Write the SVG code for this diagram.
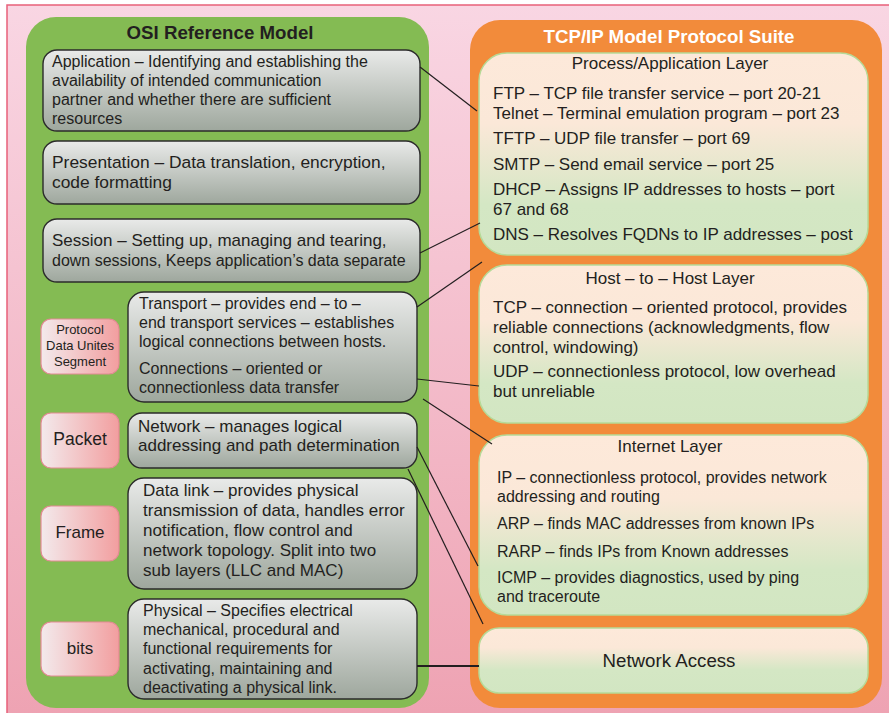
<svg xmlns="http://www.w3.org/2000/svg" width="889" height="713" viewBox="0 0 889 713">
  <defs>
    <linearGradient id="bgGrad" x1="0" y1="0" x2="0" y2="1">
      <stop offset="0" stop-color="#f9d6e3"/>
      <stop offset="1" stop-color="#eea2b2"/>
    </linearGradient>
    <linearGradient id="greyGrad" x1="0" y1="0" x2="0" y2="1">
      <stop offset="0" stop-color="#e9eae9"/>
      <stop offset="1" stop-color="#9ea79d"/>
    </linearGradient>
    <linearGradient id="pduGrad" x1="0" y1="0" x2="1" y2="0">
      <stop offset="0" stop-color="#f3eaec"/>
      <stop offset="1" stop-color="#f29e9f"/>
    </linearGradient>
    <linearGradient id="layerGrad" x1="0" y1="0" x2="0" y2="1">
      <stop offset="0" stop-color="#fde9da"/>
      <stop offset="0.35" stop-color="#fbe8d8"/>
      <stop offset="0.75" stop-color="#d4e7c4"/>
      <stop offset="1" stop-color="#d2e6c2"/>
    </linearGradient>
    <linearGradient id="accessGrad" x1="0" y1="0" x2="0" y2="1">
      <stop offset="0" stop-color="#fde9da"/>
      <stop offset="0.3" stop-color="#fbe8d8"/>
      <stop offset="0.65" stop-color="#d4e7c4"/>
      <stop offset="1" stop-color="#d2e6c2"/>
    </linearGradient>
  </defs>
  <style>
    text { font-family: "Liberation Sans", Arial, sans-serif; fill: #231f20; }
    .body { font-size: 16px; }
    .big { font-size: 17px; }
    .title { font-size: 18.7px; font-weight: bold; text-anchor: middle; }
    .layer-title { font-size: 17px; text-anchor: middle; }
    .pdu-text { font-size: 17px; text-anchor: middle; }
    .osi { fill: url(#greyGrad); stroke: #2b2b2b; stroke-width: 1.4; }
    .pdu { fill: url(#pduGrad); stroke: #e48a94; stroke-width: 1.2; }
    .tcp { fill: url(#layerGrad); stroke: #b6da98; stroke-width: 1.5; }
    .link { fill: none; stroke: #231f20; stroke-width: 1.2; }
  </style>

  <!-- page background -->
  <rect x="7" y="5" width="895" height="720" fill="url(#bgGrad)" stroke="#e8607a" stroke-width="1.5"/>

  <!-- OSI panel -->
  <g id="osi-panel">
    <rect x="26" y="17" width="403" height="691" rx="30" fill="#84bb53"/>
    <text class="title" x="220" y="39">OSI Reference Model</text>
  </g>

  <!-- TCP/IP panel -->
  <g id="tcpip-panel">
    <rect x="470" y="20" width="412" height="688" rx="30" fill="#f28b3b"/>
    <text class="title" x="669" y="43" style="fill:#ffffff">TCP/IP Model Protocol Suite</text>
  </g>

  <!-- OSI layers -->
  <g id="osi-application">
    <rect class="osi" x="43" y="50" width="377" height="81" rx="14"/>
    <text class="body" x="52" y="67">Application – Identifying and establishing the</text>
    <text class="body" x="52" y="86">availability of intended communication</text>
    <text class="body" x="52" y="105">partner and whether there are sufficient</text>
    <text class="body" x="52" y="124">resources</text>
  </g>
  <g id="osi-presentation">
    <rect class="osi" x="43" y="141" width="377" height="63" rx="14"/>
    <text class="body" x="52" y="168" style="font-size:17.4px">Presentation – Data translation, encryption,</text>
    <text class="body" x="52" y="188" style="font-size:17.4px">code formatting</text>
  </g>
  <g id="osi-session">
    <rect class="osi" x="43" y="219" width="377" height="63" rx="14"/>
    <text class="big" x="52" y="246">Session – Setting up, managing and tearing,</text>
    <text class="body" x="52" y="266">down sessions, Keeps application’s data separate</text>
  </g>
  <g id="osi-transport">
    <rect class="osi" x="128" y="292" width="289" height="110" rx="16"/>
    <text class="body" x="139" y="309">Transport – provides end – to –</text>
    <text class="body" x="139" y="328">end transport services – establishes</text>
    <text class="body" x="139" y="347">logical connections between hosts.</text>
    <text class="body" x="139" y="374">Connections – oriented or</text>
    <text class="body" x="139" y="393">connectionless data transfer</text>
  </g>
  <g id="osi-network">
    <rect class="osi" x="128" y="413" width="289" height="55" rx="14"/>
    <text class="big" x="138" y="432">Network – manages logical</text>
    <text class="big" x="138" y="451">addressing and path determination</text>
  </g>
  <g id="osi-datalink">
    <rect class="osi" x="128" y="478" width="289" height="111" rx="16"/>
    <text class="big" x="143" y="496">Data link – provides physical</text>
    <text class="big" x="143" y="516">transmission of data, handles error</text>
    <text class="big" x="143" y="536">notification, flow control and</text>
    <text class="big" x="143" y="556">network topology. Split into two</text>
    <text class="big" x="143" y="576">sub layers (LLC and MAC)</text>
  </g>
  <g id="osi-physical">
    <rect class="osi" x="128" y="599" width="289" height="100" rx="16"/>
    <text class="body" x="143" y="616">Physical – Specifies electrical</text>
    <text class="body" x="143" y="635">mechanical, procedural and</text>
    <text class="body" x="143" y="654">functional requirements for</text>
    <text class="body" x="143" y="674">activating, maintaining and</text>
    <text class="body" x="143" y="693">deactivating a physical link.</text>
  </g>

  <!-- protocol data units -->
  <g id="pdu-segment">
    <rect class="pdu" x="41" y="319" width="78" height="55" rx="10"/>
    <text class="pdu-text" x="80" y="334" style="font-size:13px">Protocol</text>
    <text class="pdu-text" x="80" y="350" style="font-size:13px">Data Unites</text>
    <text class="pdu-text" x="80" y="366" style="font-size:13px">Segment</text>
  </g>
  <g id="pdu-packet">
    <rect class="pdu" x="41" y="413" width="78" height="55" rx="10"/>
    <text class="pdu-text" x="80" y="445" style="font-size:17.5px">Packet</text>
  </g>
  <g id="pdu-frame">
    <rect class="pdu" x="41" y="506" width="78" height="55" rx="10"/>
    <text class="pdu-text" x="80" y="538">Frame</text>
  </g>
  <g id="pdu-bits">
    <rect class="pdu" x="41" y="622" width="78" height="54" rx="10"/>
    <text class="pdu-text" x="80" y="654">bits</text>
  </g>

  <!-- TCP/IP layers -->
  <g id="tcp-process">
    <rect class="tcp" x="479" y="53" width="389" height="202" rx="28"/>
    <text class="layer-title" x="670" y="69">Process/Application Layer</text>
    <text class="big" x="493" y="99">FTP – TCP file transfer service – port 20-21</text>
    <text class="big" x="493" y="119">Telnet – Terminal emulation program – port 23</text>
    <text class="big" x="493" y="144">TFTP – UDP file transfer – port 69</text>
    <text class="big" x="493" y="170">SMTP – Send email service – port 25</text>
    <text class="big" x="493" y="195">DHCP – Assigns IP addresses to hosts – port</text>
    <text class="big" x="493" y="215">67 and 68</text>
    <text class="big" x="493" y="240">DNS – Resolves FQDNs to IP addresses – post</text>
  </g>
  <g id="tcp-host">
    <rect class="tcp" x="479" y="265" width="389" height="158" rx="28"/>
    <text class="layer-title" x="670" y="284">Host – to – Host Layer</text>
    <text class="big" x="493" y="313">TCP – connection – oriented protocol, provides</text>
    <text class="big" x="493" y="333">reliable connections (acknowledgments, flow</text>
    <text class="big" x="493" y="353">control, windowing)</text>
    <text class="big" x="493" y="377">UDP – connectionless protocol, low overhead</text>
    <text class="big" x="493" y="397">but unreliable</text>
  </g>
  <g id="tcp-internet">
    <rect class="tcp" x="479" y="435" width="389" height="180" rx="28"/>
    <text class="layer-title" x="670" y="452">Internet Layer</text>
    <text class="body" x="497" y="483">IP – connectionless protocol, provides network</text>
    <text class="body" x="497" y="502">addressing and routing</text>
    <text class="body" x="497" y="529">ARP – finds MAC addresses from known IPs</text>
    <text class="body" x="497" y="557">RARP – finds IPs from Known addresses</text>
    <text class="body" x="497" y="583">ICMP – provides diagnostics, used by ping</text>
    <text class="body" x="497" y="602">and traceroute</text>
  </g>
  <g id="tcp-access">
    <rect class="tcp" x="479" y="628" width="389" height="65" rx="20" style="fill:url(#accessGrad)"/>
    <text class="layer-title" x="669" y="667" style="font-size:18.7px">Network Access</text>
  </g>

  <!-- mapping lines between the two models -->
  <g id="connectors">
    <line class="link" x1="420" y1="67" x2="477" y2="111"/>
    <line class="link" x1="420" y1="253" x2="480" y2="223"/>
    <line class="link" x1="417" y1="307" x2="482" y2="262"/>
    <line class="link" x1="417" y1="379" x2="479" y2="386"/>
    <line class="link" x1="423" y1="399" x2="492" y2="444"/>
    <line class="link" x1="417" y1="447" x2="478" y2="566"/>
    <line class="link" x1="408" y1="469" x2="483" y2="624"/>
    <line class="link" x1="417" y1="666" x2="479" y2="666" style="stroke-width:2"/>
  </g>
</svg>
